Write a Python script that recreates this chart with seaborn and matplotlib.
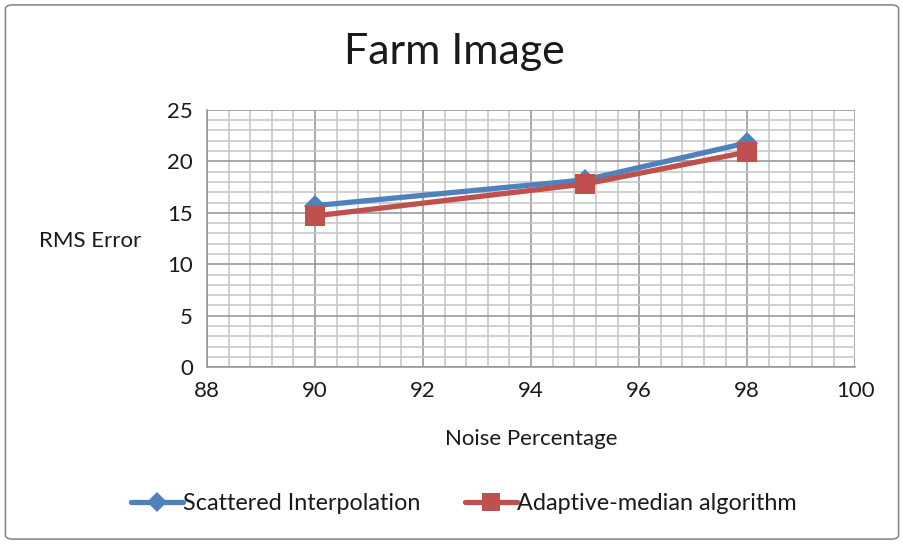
import matplotlib
matplotlib.use("Agg")
import matplotlib.pyplot as plt
from matplotlib.patches import FancyBboxPatch
from matplotlib.ticker import MultipleLocator
import seaborn as sns
import pandas as pd

noise_pct = [90, 95, 98]
scattered = [15.7, 18.2, 21.8]
adaptive = [14.7, 17.8, 20.9]
series_names = ["Scattered Interpolation", "Adaptive-median algorithm"]

df = pd.DataFrame({
    "Noise Percentage": noise_pct * 2,
    "RMS Error": scattered + adaptive,
    "Method": [series_names[0]] * 3 + [series_names[1]] * 3,
})

sns.set_theme(style="white")
plt.rcParams["font.family"] = ["Lato", "DejaVu Sans"]

fig = plt.figure(figsize=(9.04, 5.44), dpi=100)
ax = fig.add_axes([0.229, 0.325, 0.717, 0.473])

palette = {series_names[0]: "#4F81BD", series_names[1]: "#C0504D"}
markers = {series_names[0]: "D", series_names[1]: "s"}
sns.lineplot(data=df, x="Noise Percentage", y="RMS Error", hue="Method",
             style="Method", markers=markers, dashes=False, palette=palette,
             linewidth=3.8, markersize=14, markeredgewidth=0, ax=ax)
# smaller diamonds on the first series
ax.lines[0].set_markersize(11)

ax.set_xlim(88, 100)
ax.set_ylim(0, 25)
ax.xaxis.set_major_locator(MultipleLocator(2))
ax.xaxis.set_minor_locator(MultipleLocator(0.4))
ax.yaxis.set_major_locator(MultipleLocator(5))
ax.yaxis.set_minor_locator(MultipleLocator(1))
ax.grid(which="major", color="#999999", linewidth=1.2)
ax.grid(which="minor", color="#c8c8c8", linewidth=1.2)
ax.set_axisbelow(True)
for side, sp in ax.spines.items():
    sp.set_visible(side in ("left", "bottom"))
    sp.set_color("#999999")
    sp.set_linewidth(1.2)
ax.tick_params(which="both", length=0, labelsize=16, colors="#1a1a1a", pad=10)

ax.set_xlabel("Noise Percentage", fontsize=16, color="#1a1a1a", labelpad=20)
ax.set_ylabel("RMS Error", fontsize=16, color="#1a1a1a", rotation=0,
              ha="center", va="center")
ax.yaxis.set_label_coords(-0.181, 0.49)

fig.text(0.503, 0.905, "Farm Image", fontsize=31, ha="center", va="center",
         color="#1a1a1a")

handles, labels = ax.get_legend_handles_labels()
handles[0].set_markersize(10)
handles[1].set_markersize(13)
ax.legend(handles, labels, loc="center", bbox_to_anchor=(0.513, 0.075),
          bbox_transform=fig.transFigure, ncol=2, frameon=False,
          fontsize=16.8, handlelength=2.25, handletextpad=0.0, columnspacing=1.9,
          labelcolor="#1a1a1a")

border = FancyBboxPatch((0.006, 0.009), 0.988, 0.982,
                        boxstyle="round,pad=0,rounding_size=0.008",
                        transform=fig.transFigure, fill=False,
                        edgecolor="#8c8c8c", linewidth=1.2)
fig.patches.append(border)

fig.savefig("out.png", dpi=100, facecolor="white")
